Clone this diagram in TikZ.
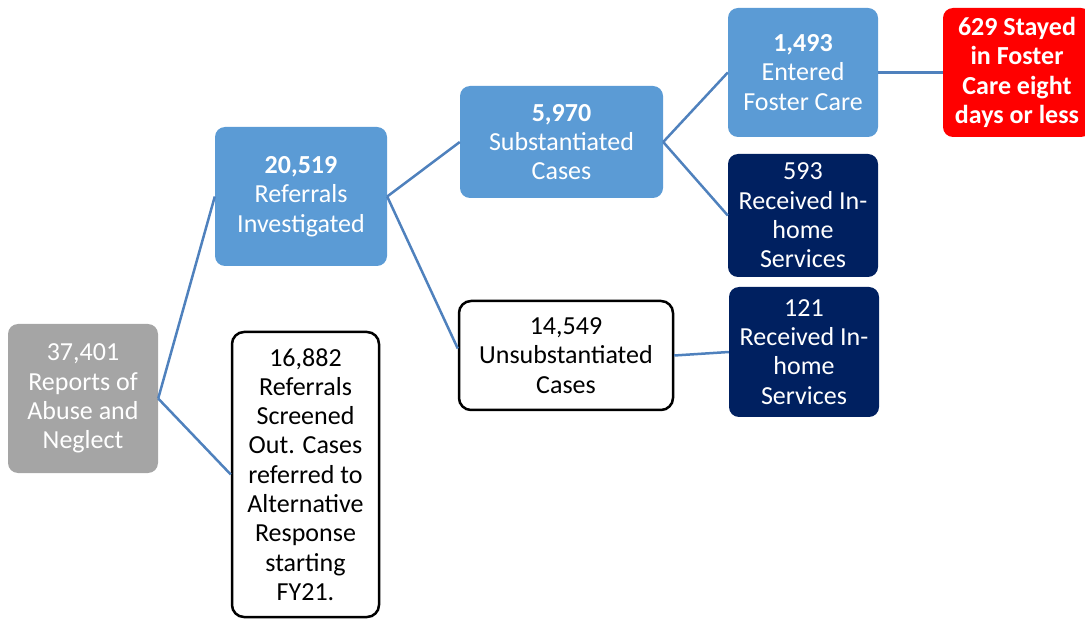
\documentclass[tikz,border=0pt]{standalone}
\usepackage{fontspec}
\setmainfont{Carlito}
\definecolor{boxblue}{HTML}{5B9BD5}
\definecolor{navy}{HTML}{002060}
\definecolor{boxgray}{HTML}{A5A5A5}
\definecolor{linkblue}{HTML}{4F81BD}
\begin{document}
\begin{tikzpicture}[x=1pt,y=-1pt,
  base/.style={rectangle, rounded corners=10pt, inner sep=0pt, align=center,
    font=\fontsize{26}{29.3}\selectfont},
  graybox/.style={base, fill=boxgray, text=white},
  bluebox/.style={base, fill=boxblue, text=white},
  navybox/.style={base, fill=navy, text=white},
  redbox/.style={base, fill=red, text=white, font=\fontsize{26}{29.3}\selectfont\bfseries},
  whitebox/.style={base, fill=white, draw=black, line width=2.5pt, rounded corners=12pt, text=black},
  link/.style={draw=linkblue, line width=2.5pt}]
\useasboundingbox (0,0) rectangle (1085,620);
\node[graybox, minimum width=150pt, minimum height=149pt] (g) at (83,398.5) {37,401\\Reports of\\Abuse and\\Neglect};
\node[bluebox, minimum width=172pt, minimum height=139pt] (a) at (301,196.5) {\textbf{20,519}\\Referrals\\Investigated};
\node[whitebox, minimum width=147pt, minimum height=285pt] (s) at (305.5,474.5) {16,882\\Referrals\\Screened\\Out. Cases\\referred to\\Alternative\\Response\\starting\\FY21.};
\node[bluebox, minimum width=203pt, minimum height=112pt] (c) at (561.5,142) {\textbf{5,970}\\Substantiated\\Cases};
\node[whitebox, minimum width=214pt, minimum height=109pt] (u) at (566,355.5) {14,549\\Unsubstantiated\\Cases};
\node[bluebox, minimum width=150pt, minimum height=129pt] (f) at (803,72.5) {\textbf{1,493}\\Entered\\Foster Care};
\node[navybox, minimum width=150pt, minimum height=123pt] (h1) at (803,215.5) {593\\Received In-\\home\\Services};
\node[navybox, minimum width=150pt, minimum height=130pt] (h2) at (804,352) {121\\Received In-\\home\\Services};
\node[redbox, minimum width=148pt, minimum height=129pt] (r) at (1017,72.5) {629 Stayed\\in Foster\\Care eight\\days or less};
\draw[link] (g.east) -- (a.west);
\draw[link] (g.east) -- (s.west);
\draw[link] (a.east) -- (c.west);
\draw[link] (a.east) -- ([yshift=7pt]u.west);
\draw[link] (c.east) -- (f.west);
\draw[link] (c.east) -- (h1.west);
\draw[link] (u.east) -- (h2.west);
\draw[link] (f.east) -- (r.west);
\end{tikzpicture}
\end{document}
